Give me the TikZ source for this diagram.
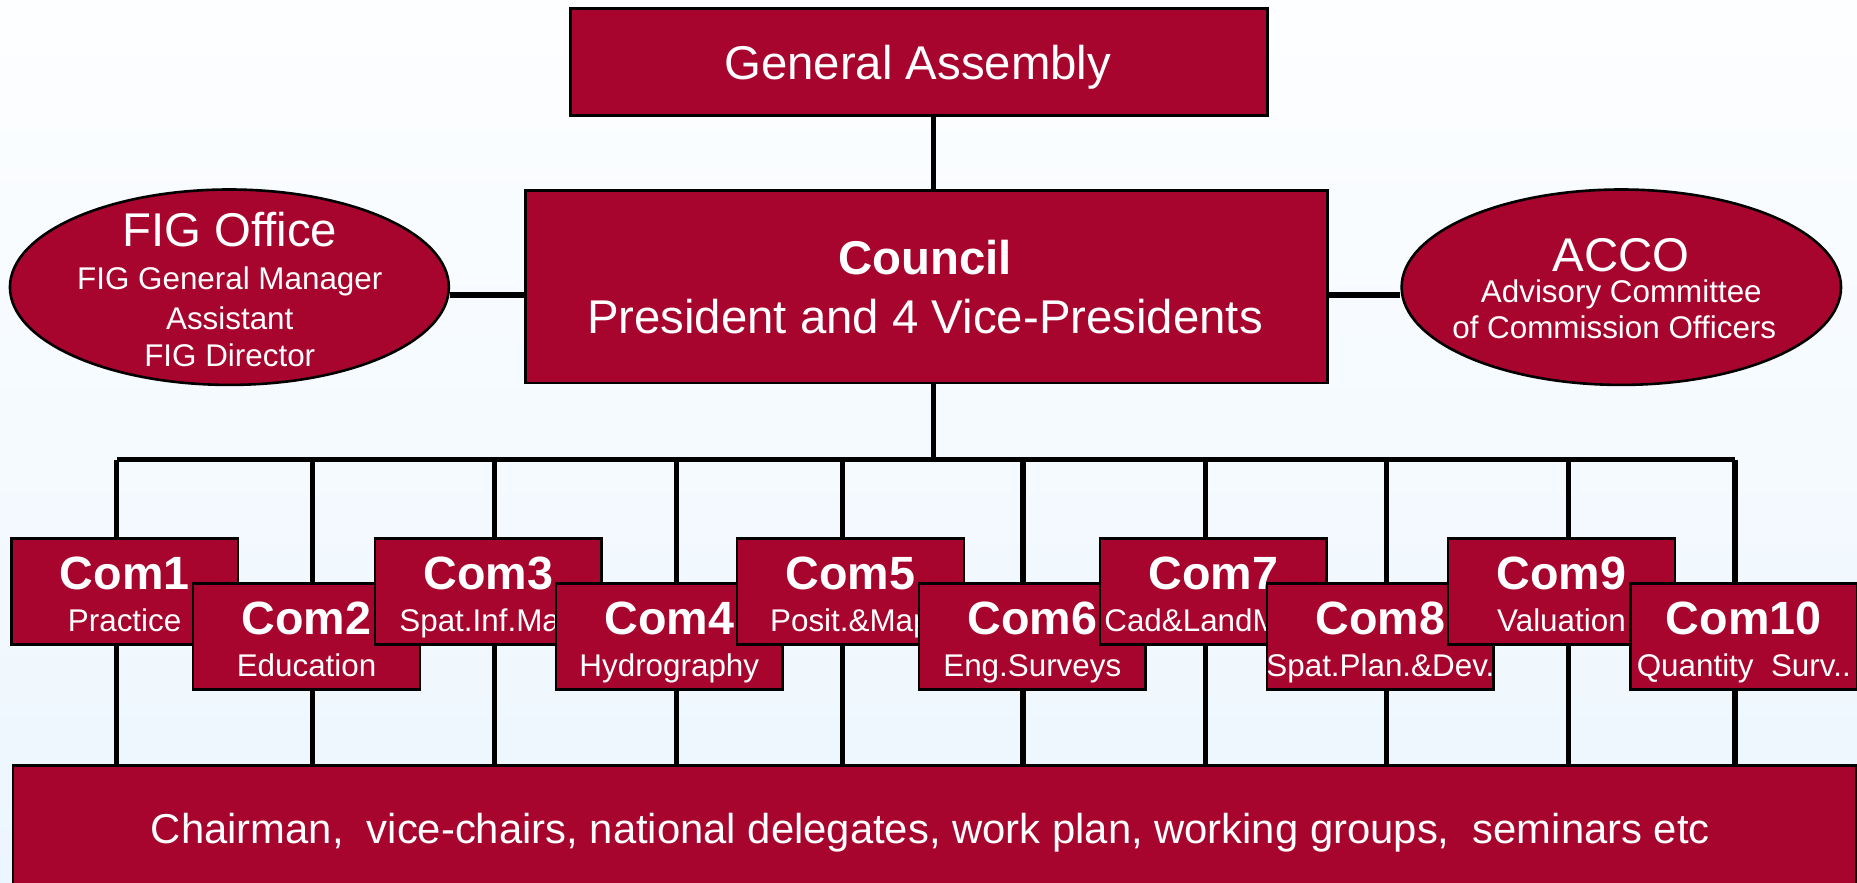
\documentclass[tikz,border=0pt]{standalone}
\usepackage{fontspec}
\setmainfont{Liberation Sans}
\usetikzlibrary{calc,shapes.geometric}

\definecolor{figred}{RGB}{168,5,46}
\definecolor{bgtop}{RGB}{253,254,255}
\definecolor{bgbot}{RGB}{236,246,254}

\pgfdeclarelayer{backdrop}
\pgfdeclarelayer{lines}
\pgfsetlayers{backdrop,lines,main}

\tikzset{
  redbox/.style={draw=black, line width=1.1pt, fill=figred, rectangle,
                 inner sep=0pt, anchor=north west},
  redoval/.style={draw=black, line width=1.1pt, fill=figred, ellipse,
                  inner sep=0pt},
  link/.style={draw=black, line width=2.2pt},
  lbl/.style={text=white, inner sep=0pt, anchor=base},
  bigtxt/.style={lbl, font=\fontsize{20pt}{24pt}\selectfont},
  boldtxt/.style={lbl, font=\fontsize{20pt}{24pt}\selectfont\bfseries},
  comtxt/.style={lbl, font=\fontsize{19.7pt}{24pt}\selectfont\bfseries},
  smalltxt/.style={lbl, font=\fontsize{13.25pt}{16pt}\selectfont},
  bartxt/.style={lbl, font=\fontsize{17.65pt}{21pt}\selectfont},
}

\begin{document}
\begin{tikzpicture}[x=0.5pt, y=-0.5pt]
  % page and background
  \useasboundingbox (0,0) rectangle (1568,745);
  \begin{pgfonlayer}{backdrop}
    \fill[top color=bgtop, bottom color=bgbot] (0,0) rectangle (1568,745);
  \end{pgfonlayer}
  \clip (0,0) rectangle (1568,745);

  % helper coordinates for the connector lines
  \coordinate (spine) at (788,0);
  \coordinate (side) at (0,249);
  \coordinate (bus) at (0,388);
  \foreach \i/\x in {1/98.5, 2/263.8, 3/417.4, 4/571.1, 5/711.4,
                     6/863.8, 7/1017.6, 8/1171, 9/1324.5, 10/1465}{
    \coordinate (d\i) at (\x,388);
  }

  % top level shapes
  \node[redbox, minimum width=294.45pt, minimum height=45.05pt] (ga) at (480.4,6.2) {};
  \node[redbox, minimum width=338.75pt, minimum height=81.2pt] (council) at (442.5,159.9) {};
  \node[redoval, minimum width=185.3pt, minimum height=82.5pt] (fig) at (193.7,242.5) {};
  \node[redoval, minimum width=185.5pt, minimum height=82.5pt] (acco) at (1369,242.5) {};
  \node[redbox, minimum width=778pt, minimum height=60pt] (bar) at (10,645) {};

  % connectors, kept under the shapes
  \begin{pgfonlayer}{lines}
    \draw[link] (spine |- ga.south) -- (spine |- council.north);
    \draw[link] (fig.east |- side) -- (council.west |- side);
    \draw[link] (council.east |- side) -- (acco.west |- side);
    \draw[link] (spine |- council.south) -- (spine |- bus);
    \draw[link] (d1) -- (d10);
    \foreach \i in {1,...,10}{
      \draw[link] (d\i) -- (d\i |- bar.north);
    }
  \end{pgfonlayer}

  % texts of the top level
  \node[bigtxt] (ga-t) at (774.85,67) {General Assembly};
  \node[boldtxt] (council-t) at (781,232) {Council};
  \node[bigtxt] (council-s) at (781,281.5) {President and 4 Vice-Presidents};
  \node[bigtxt] (fig-t) at (194,208.3) {FIG Office};
  \node[smalltxt] (fig-s1) at (194,244.3) {FIG General Manager};
  \node[smalltxt] (fig-s2) at (194,278) {Assistant};
  \node[smalltxt] (fig-s3) at (194,309.6) {FIG Director};
  \node[bigtxt] (acco-t) at (1369,229.4) {ACCO};
  \node[smalltxt] (acco-s1) at (1369,255.6) {Advisory Committee};
  \node[smalltxt] (acco-s2) at (1363,285.7) {of Commission Officers};

  % commissions, each one drawn over the previous one
  \foreach \i/\x/\y/\s in {1/8.4/453.7/Practice,
                           2/162/491.7/Education,
                           3/315.5/453.7/Spat.Inf.Man,
                           4/468.3/491.7/Hydrography,
                           5/621.2/453.7/Posit.\&Map,
                           6/774.8/491.7/Eng.Surveys,
                           7/927.7/453.7/Cad\&LandMan.,
                           8/1068.7/491.7/Spat.Plan.\&Dev.,
                           9/1221.6/453.7/Valuation,
                           10/1375.5/491.7/Quantity~ Surv..}{
    \node[redbox, minimum width=95.75pt, minimum height=44.75pt] (c\i) at (\x,\y) {};
    \node[comtxt] (c\i-t) at ($(c\i.north)+(0,43.8)$) {Com\i};
    \node[smalltxt] (c\i-s) at ($(c\i.north)+(0,79.7)$) {\s};
  }

  % bottom bar text
  \node[bartxt] (bar-t) at (785.6,712)
    {Chairman,~ vice-chairs, national delegates, work plan, working groups,~ seminars etc};
\end{tikzpicture}
\end{document}
